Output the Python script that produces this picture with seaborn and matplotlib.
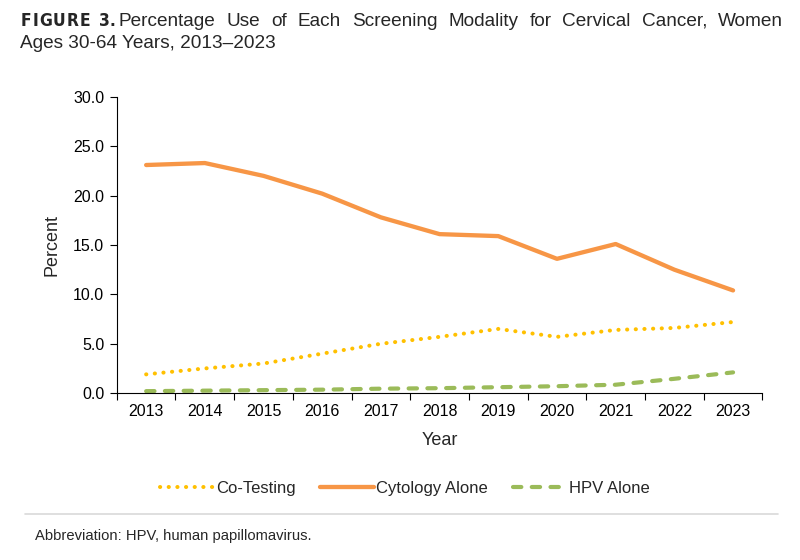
import pandas as pd
import matplotlib
matplotlib.use("Agg")
import matplotlib.pyplot as plt
import seaborn as sns

years = ["2013", "2014", "2015", "2016", "2017", "2018", "2019", "2020", "2021", "2022", "2023"]
co_testing = [1.9, 2.5, 3.0, 4.0, 5.0, 5.7, 6.5, 5.7, 6.4, 6.6, 7.2]
cytology_alone = [23.1, 23.3, 22.0, 20.2, 17.8, 16.1, 15.9, 13.6, 15.1, 12.5, 10.4]
hpv_alone = [0.2, 0.25, 0.3, 0.35, 0.45, 0.5, 0.6, 0.7, 0.85, 1.45, 2.1]

title_line1 = "Percentage Use of Each Screening Modality for Cervical Cancer, Women"
title_line2 = "Ages 30-64 Years, 2013\u20132023"

sns.set_style("white")
plt.rcParams['font.family'] = ['Liberation Sans', 'DejaVu Sans']

df = pd.DataFrame({'Year': years, 'Co-Testing': co_testing,
                   'Cytology Alone': cytology_alone, 'HPV Alone': hpv_alone})

fig = plt.figure(figsize=(8, 5.6), dpi=100)
ax = fig.add_axes([0.146, 0.298, 0.807, 0.529])

# one call per series so each gets its own line style
sns.lineplot(data=df, x='Year', y='Co-Testing', ax=ax, color='#FFC000', lw=2.9,
             label='Co-Testing', linestyle=(0, (0.05, 2.1)), dash_capstyle='round', sort=False)
sns.lineplot(data=df, x='Year', y='Cytology Alone', ax=ax, color='#F79646', lw=3.1,
             label='Cytology Alone', sort=False)
sns.lineplot(data=df, x='Year', y='HPV Alone', ax=ax, color='#9BBB59', lw=3.0,
             label='HPV Alone', linestyle=(0, (2.0, 2.5)), dash_capstyle='round', sort=False)

ax.set_xlim(-0.5, len(years) - 0.5)
ax.set_ylim(0, 30)
ax.set_yticks([0, 5, 10, 15, 20, 25, 30])
ax.set_yticklabels([f"{v:.1f}" for v in [0, 5, 10, 15, 20, 25, 30]])
ax.set_xticks(range(len(years)))
ax.set_xticklabels(years)
ax.set_xticks([i - 0.5 for i in range(len(years) + 1)], minor=True)
ax.tick_params(axis='x', which='major', length=0, labelsize=11.5, pad=8, colors='black')
ax.tick_params(axis='x', which='minor', length=5, width=0.8, direction='out', color='black')
ax.tick_params(axis='y', length=5, width=0.8, direction='out', labelsize=11.5, pad=4, colors='black')
ax.xaxis.set_ticks_position('bottom')
ax.yaxis.set_ticks_position('left')

for side in ['top', 'right']:
    ax.spines[side].set_visible(False)
for side in ['left', 'bottom']:
    ax.spines[side].set_color('black')
    ax.spines[side].set_linewidth(0.8)

ax.set_xlabel('Year', fontsize=13, labelpad=9)
ax.set_ylabel('Percent', fontsize=13, labelpad=9)
ax.get_legend().remove()

handles, labels = ax.get_legend_handles_labels()
fig.legend(handles, labels, loc='center', bbox_to_anchor=(0.506, 0.128), ncol=3,
           frameon=False, fontsize=12, handlelength=3.2, handletextpad=0.15, columnspacing=1.5)

renderer = fig.canvas.get_renderer()


def spread(items, x0, x1, y, **kw):
    # place pieces of text so they fill x0..x1 (pixels) evenly
    texts = [fig.text(0, y, s, va='center', **kw) for s in items]
    widths = [t.get_window_extent(renderer).width / 800 for t in texts]
    gap = (x1 / 800 - x0 / 800 - sum(widths)) / (len(items) - 1)
    x = x0 / 800
    for t, w in zip(texts, widths):
        t.set_x(x)
        x += w + gap


# title: letter-spaced bold label, then first line justified to the right edge
label_style = dict(fontsize=12.5, fontweight='bold', fontstretch='condensed', family=['DejaVu Sans'])
spread(list("FIGURE"), 21, 90, 0.962, **label_style)
fig.text(99 / 800, 0.962, "3.", va='center', **label_style)
spread(title_line1.split(' '), 119, 783, 0.962, fontsize=13.7)
fig.text(0.025, 0.922, title_line2, fontsize=13.7, va='center')

# separator line and footnote
fig.add_artist(plt.Line2D([0.031, 0.972], [0.082, 0.082], color='#D9D9D9', lw=1.2,
                          transform=fig.transFigure))
fig.text(0.044, 0.043, 'Abbreviation: HPV, human papillomavirus.', fontsize=10.6, va='center')

fig.savefig('out.png', dpi=100)
